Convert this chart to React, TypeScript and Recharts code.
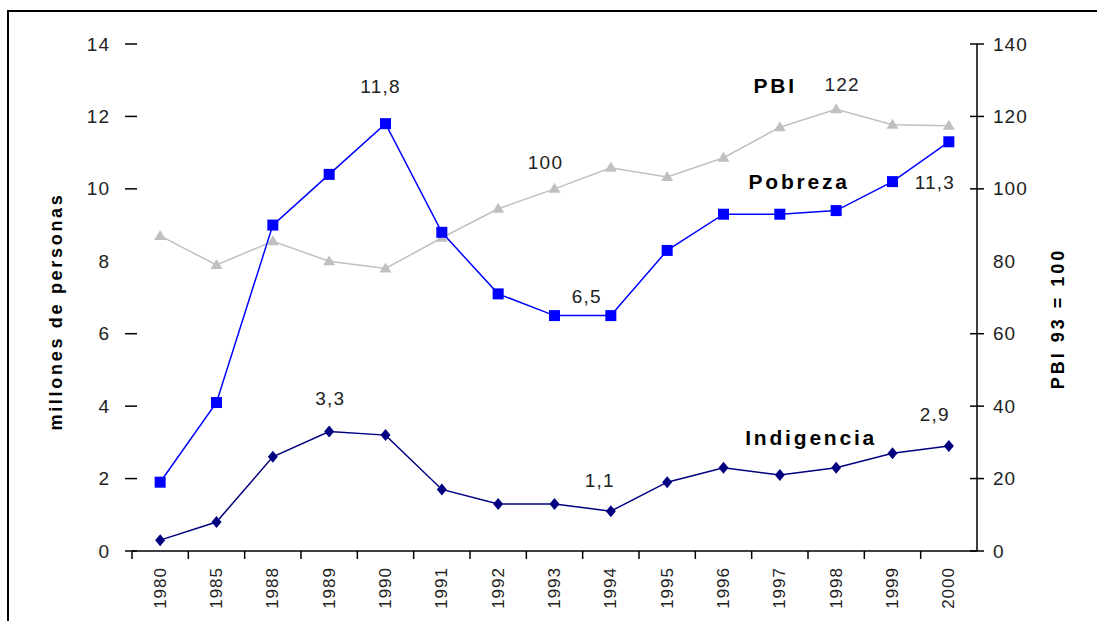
import { LineChart, Line, XAxis, YAxis, LabelList } from "recharts";

const years = ["1980", "1985", "1988", "1989", "1990", "1991", "1992", "1993", "1994", "1995", "1996", "1997", "1998", "1999", "2000"];
const pobreza = [1.9, 4.1, 9.0, 10.4, 11.8, 8.8, 7.1, 6.5, 6.5, 8.3, 9.3, 9.3, 9.4, 10.2, 11.3];
const indigencia = [0.3, 0.8, 2.6, 3.3, 3.2, 1.7, 1.3, 1.3, 1.1, 1.9, 2.3, 2.1, 2.3, 2.7, 2.9];
const pbi = [87, 79, 85.5, 80, 78, 86.5, 94.5, 100, 105.8, 103.3, 108.6, 117, 122, 117.7, 117.4];
const leftTicks = [0, 2, 4, 6, 8, 10, 12, 14];
const rightTicks = [0, 20, 40, 60, 80, 100, 120, 140];

const data = years.map((year, i) => ({
  year,
  pobreza: pobreza[i],
  indigencia: indigencia[i],
  pbi: pbi[i],
}));

type Note = { index: number; text: string; dx: number; dy: number; bold?: boolean };

const pobrezaNotes: Note[] = [
  { index: 4, text: "11,8", dx: -5, dy: -37 },
  { index: 8, text: "6,5", dx: -24, dy: -19 },
  { index: 14, text: "11,3", dx: -14, dy: 41 },
  { index: 12, text: "Pobreza", dx: -37, dy: -29, bold: true },
];
const pbiNotes: Note[] = [
  { index: 7, text: "100", dx: -9, dy: -26 },
  { index: 12, text: "122", dx: 6, dy: -25 },
  { index: 12, text: "PBI", dx: -61, dy: -24, bold: true },
];
const indigenciaNotes: Note[] = [
  { index: 3, text: "3,3", dx: 1, dy: -33 },
  { index: 8, text: "1,1", dx: -11, dy: -31 },
  { index: 14, text: "2,9", dx: -14, dy: -31 },
  { index: 12, text: "Indigencia", dx: -25, dy: -30, bold: true },
];

const FONT = "'Liberation Sans', Arial, sans-serif";

function notesContent(notes: Note[]) {
  return (props: any) => {
    const { x, y, index } = props;
    const found = notes.filter((n) => n.index === index);
    if (!found.length) return null;
    return (
      <g>
        {found.map((n, k) => (
          <text
            key={k}
            x={x + n.dx}
            y={y + n.dy}
            textAnchor="middle"
            dominantBaseline="central"
            fontFamily={FONT}
            fontSize={n.bold ? 21 : 19}
            fontWeight={n.bold ? "bold" : "normal"}
            letterSpacing={n.bold ? 2.8 : 1.2}
            fill={n.bold ? "#000" : "#222"}
          >
            {n.text}
          </text>
        ))}
      </g>
    );
  };
}

function axisTitle(text: string, dxFromLeft: number, dyFromMid: number, spacing: number) {
  return (props: any) => {
    const vb = props.viewBox || {};
    const cx = vb.x + dxFromLeft;
    const cy = vb.y + vb.height / 2 + dyFromMid;
    return (
      <text
        x={cx}
        y={cy}
        transform={`rotate(-90, ${cx}, ${cy})`}
        textAnchor="middle"
        dominantBaseline="central"
        fontFamily={FONT}
        fontSize={18}
        fontWeight="bold"
        letterSpacing={spacing}
        fill="#000"
      >
        {text}
      </text>
    );
  };
}

const SquareDot = (props: any) => {
  const { cx, cy } = props;
  return <rect x={cx - 5.5} y={cy - 5.5} width={11} height={11} fill="#0000ff" />;
};
const DiamondDot = (props: any) => {
  const { cx, cy } = props;
  return <path d={`M${cx},${cy - 6} L${cx + 5},${cy} L${cx},${cy + 6} L${cx - 5},${cy} Z`} fill="#000080" />;
};
const TriangleDot = (props: any) => {
  const { cx, cy } = props;
  return <path d={`M${cx},${cy - 6} L${cx + 6},${cy + 4} L${cx - 6},${cy + 4} Z`} fill="#c0c0c0" />;
};

const XTick = (props: any) => {
  const { x, y, payload } = props;
  const half = payload.offset || 28.2;
  return (
    <g>
      <line x1={x - half} x2={x - half} y1={y - 12} y2={y - 4} stroke="#000" strokeWidth={1.5} />
      <text
        x={x}
        y={y + 4}
        transform={`rotate(-90, ${x}, ${y + 4})`}
        textAnchor="end"
        dominantBaseline="central"
        fontFamily={FONT}
        fontSize={17}
        letterSpacing={1}
        fill="#222"
      >
        {payload.value}
      </text>
    </g>
  );
};

const LeftTick = (props: any) => {
  const { x, y, payload } = props;
  return (
    <g>
      {payload.value !== 8 && <line x1={x + 15} x2={x + 27} y1={y} y2={y} stroke="#000" strokeWidth={1.5} />}
      <text x={x} y={y} textAnchor="end" dominantBaseline="central" fontFamily={FONT} fontSize={19} letterSpacing={1} fill="#222">
        {payload.value}
      </text>
    </g>
  );
};

const RightTick = (props: any) => {
  const { x, y, payload } = props;
  return (
    <g>
      {payload.value !== 80 && <line x1={x - 19} x2={x - 5} y1={y} y2={y} stroke="#000" strokeWidth={1.5} />}
      <text x={x + 4} y={y} dominantBaseline="central" fontFamily={FONT} fontSize={19} letterSpacing={1} fill="#222">
        {payload.value}
      </text>
    </g>
  );
};

export default function App() {
  return (
    <div style={{ position: "fixed", left: 0, top: 0, width: 1097, height: 621, overflow: "hidden", background: "#fff" }}>
      <div
        style={{
          position: "absolute",
          left: 7,
          top: 10,
          width: 1200,
          height: 700,
          borderTop: "2px solid #000",
          borderLeft: "2px solid #000",
        }}
      />
      <div style={{ position: "absolute", left: 0, top: 0 }}>
        <LineChart width={1097} height={621} data={data} margin={{ top: 44, right: 0, bottom: 0, left: 0 }}>
          <XAxis
            dataKey="year"
            scale="band"
            height={70}
            tickSize={8}
            tickMargin={4}
            tickLine={false}
            tick={<XTick />}
            axisLine={{ stroke: "#000", strokeWidth: 1.5 }}
            interval={0}
          />
          <YAxis
            yAxisId="left"
            width={132}
            domain={[0, 14]}
            ticks={leftTicks}
            axisLine={false}
            tickSize={12}
            tickMargin={10}
            tickLine={false}
            tick={<LeftTick />}
            label={{ content: axisTitle("millones de personas", 56, 14, 2.7) }}
          />
          <YAxis
            yAxisId="right"
            orientation="right"
            width={120}
            domain={[0, 140]}
            ticks={rightTicks}
            axisLine={{ stroke: "#000", strokeWidth: 1.5 }}
            tickSize={7}
            tickMargin={5}
            tickLine={false}
            tick={<RightTick />}
            label={{ content: axisTitle("PBI 93 = 100", 81, 21, 3) }}
          />
          <Line
            yAxisId="right"
            dataKey="pbi"
            stroke="#c0c0c0"
            strokeWidth={1.5}
            dot={<TriangleDot />}
            isAnimationActive={false}
          >
            <LabelList dataKey="pbi" content={notesContent(pbiNotes)} />
          </Line>
          <Line
            yAxisId="left"
            dataKey="pobreza"
            stroke="#0000ff"
            strokeWidth={1.5}
            dot={<SquareDot />}
            isAnimationActive={false}
          >
            <LabelList dataKey="pobreza" content={notesContent(pobrezaNotes)} />
          </Line>
          <Line
            yAxisId="left"
            dataKey="indigencia"
            stroke="#000080"
            strokeWidth={1.5}
            dot={<DiamondDot />}
            isAnimationActive={false}
          >
            <LabelList dataKey="indigencia" content={notesContent(indigenciaNotes)} />
          </Line>
        </LineChart>
      </div>
    </div>
  );
}
